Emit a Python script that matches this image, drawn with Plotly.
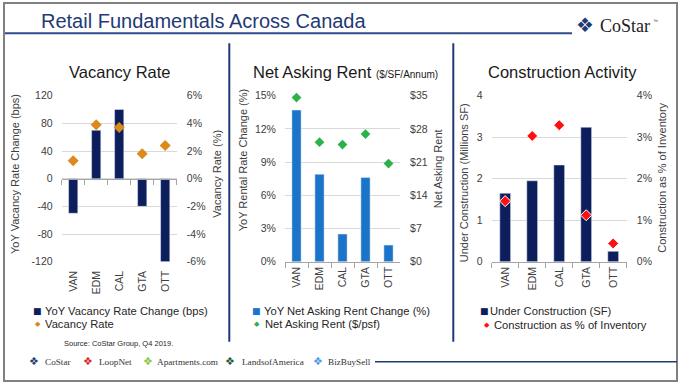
import plotly.graph_objects as go

W, H = 684, 386

# ---------------- data ----------------
cities = ["VAN", "EDM", "CAL", "GTA", "OTT"]

vac_change_bps = [-50, 70, 100, -40, -120]
vac_rate_pct = [1.3, 3.9, 3.7, 1.8, 2.4]

rent_change_pct = [13.7, 7.9, 2.5, 7.6, 1.5]
asking_rent = [34.6, 25.2, 24.7, 26.9, 20.7]

under_construction_msf = [1.65, 1.95, 2.33, 3.24, 0.25]
construction_pct_inv = [1.46, 3.03, 3.29, 1.12, 0.44]

vac_left_ticks = [-120, -80, -40, 0, 40, 80, 120]
vac_left_labels = ["-120", "-80", "-40", "0", "40", "80", "120"]
vac_right_ticks = [-6, -4, -2, 0, 2, 4, 6]
vac_right_labels = ["-6%", "-4%", "-2%", "0%", "2%", "4%", "6%"]
rent_left_ticks = [0, 3, 6, 9, 12, 15]
rent_left_labels = ["0%", "3%", "6%", "9%", "12%", "15%"]
rent_right_ticks = [0, 7, 14, 21, 28, 35]
rent_right_labels = ["$0", "$7", "$14", "$21", "$28", "$35"]
con_left_ticks = [0, 1, 2, 3, 4]
con_left_labels = ["0", "1", "2", "3", "4"]
con_right_ticks = [0, 1, 2, 3, 4]
con_right_labels = ["0%", "1%", "2%", "3%", "4%"]

brands = ["CoStar", "LoopNet", "Apartments.com", "LandsofAmerica", "BizBuySell"]

# ---------------- styling ----------------
NAVY = "#0c1f5c"
MIDBLUE = "#1b74c8"
ORANGE = "#dc8a1c"
GREEN = "#2bb24c"
RED = "#ff1010"
HEAD = "#1f3a75"
GRID = "#d9d9d9"
AXL = "#a6a6a6"
TXT = "#404040"
FONT = "Liberation Sans, Arial, sans-serif"


def X(px):
    return px / W


def Y(py):
    return 1 - py / H


ydom = [Y(261.7), Y(95.7)]
xdom1 = [X(61.7), X(176.7)]
xdom2 = [X(285.0), X(400.0)]
xdom3 = [X(491.7), X(626.7)]

fig = go.Figure()

# Panel 1
fig.add_trace(go.Bar(x=cities, y=vac_change_bps, marker_color=NAVY, width=0.4,
                     xaxis="x", yaxis="y", showlegend=False))
fig.add_trace(go.Scatter(x=cities, y=vac_rate_pct, mode="markers", cliponaxis=False,
                         marker=dict(symbol="diamond", size=8.5, color=ORANGE),
                         xaxis="x", yaxis="y2", showlegend=False))
fig.add_trace(go.Scatter(x=[], y=[], xaxis="x4", yaxis="y", showlegend=False))
# Panel 2
fig.add_trace(go.Bar(x=cities, y=rent_change_pct, marker_color=MIDBLUE, width=0.4,
                     xaxis="x2", yaxis="y3", showlegend=False))
fig.add_trace(go.Scatter(x=cities, y=asking_rent, mode="markers", cliponaxis=False,
                         marker=dict(symbol="diamond", size=7.5, color=GREEN),
                         xaxis="x2", yaxis="y4", showlegend=False))
# Panel 3
fig.add_trace(go.Bar(x=cities, y=under_construction_msf, marker_color=NAVY, width=0.4,
                     xaxis="x3", yaxis="y5", showlegend=False))
fig.add_trace(go.Scatter(x=cities, y=construction_pct_inv, mode="markers", cliponaxis=False,
                         marker=dict(symbol="diamond", size=8.5, color=RED,
                                     line=dict(color="white", width=1)),
                         xaxis="x3", yaxis="y6", showlegend=False))

tickfont = dict(family=FONT, size=10.5, color=TXT)


def xcat(dom, line):
    d = dict(domain=dom, type="category", categoryorder="array", categoryarray=cities,
             tickangle=-90, tickfont=tickfont, showgrid=False, zeroline=False,
             automargin=False, range=[-0.5, len(cities) - 0.5], fixedrange=True)
    if line:
        d.update(showline=True, linecolor=AXL, linewidth=1, ticks="outside",
                 tickson="boundaries", ticklen=5, tickcolor=AXL)
    else:
        d.update(showline=False, ticks="outside", ticklen=4, tickcolor="rgba(0,0,0,0)")
    return d


def yleft(anchor, rng, tv, tt, zl=False):
    return dict(domain=ydom, anchor=anchor, range=rng, tickmode="array", tickvals=tv,
                ticktext=tt, tickfont=tickfont, showgrid=True, gridcolor=GRID,
                gridwidth=1, zeroline=zl, zerolinecolor=AXL, zerolinewidth=1,
                showline=False, ticks="outside", ticklen=6,
                tickcolor="rgba(0,0,0,0)", automargin=False, fixedrange=True)


def yright(anchor, over, rng, tv, tt):
    return dict(domain=ydom, anchor=anchor, overlaying=over, side="right", range=rng,
                tickmode="array", tickvals=tv, ticktext=tt, tickfont=tickfont,
                showgrid=False, zeroline=False, showline=False, ticks="outside",
                ticklen=7, tickcolor="rgba(0,0,0,0)", automargin=False, fixedrange=True)


vac_rng = [vac_left_ticks[0], vac_left_ticks[-1]]
zero_pos = ydom[0] + (0 - vac_rng[0]) / (vac_rng[1] - vac_rng[0]) * (ydom[1] - ydom[0])

layout = dict(
    width=W, height=H, margin=dict(l=0, r=0, t=0, b=0),
    paper_bgcolor="white", plot_bgcolor="rgba(0,0,0,0)",
    font=dict(family=FONT, color=TXT), bargap=0.6, showlegend=False,
    xaxis=xcat(xdom1, False),
    xaxis2=dict(xcat(xdom2, True), anchor="y3"),
    xaxis3=dict(xcat(xdom3, True), anchor="y5"),
    xaxis4=dict(domain=xdom1, overlaying="x", anchor="free", position=zero_pos,
                type="linear", range=[-0.5, len(cities) - 0.5], tick0=-0.5, dtick=1,
                ticks="outside", ticklen=5, tickcolor=AXL, showline=True, linecolor=AXL,
                linewidth=1, showticklabels=False, showgrid=False, zeroline=False,
                automargin=False, fixedrange=True),
    yaxis=yleft("x", vac_rng, vac_left_ticks, vac_left_labels, zl=False),
    yaxis2=yright("x", "y", [vac_right_ticks[0], vac_right_ticks[-1]],
                  vac_right_ticks, vac_right_labels),
    yaxis3=yleft("x2", [rent_left_ticks[0], rent_left_ticks[-1]], rent_left_ticks,
                 rent_left_labels),
    yaxis4=yright("x2", "y3", [rent_right_ticks[0], rent_right_ticks[-1]],
                  rent_right_ticks, rent_right_labels),
    yaxis5=yleft("x3", [con_left_ticks[0], con_left_ticks[-1]], con_left_ticks,
                 con_left_labels),
    yaxis6=yright("x3", "y5", [con_right_ticks[0], con_right_ticks[-1]],
                  con_right_ticks, con_right_labels),
)
fig.update_layout(**layout)

ann = []


def txt(x, y, s, size, color=TXT, xa="center", ya="middle", family=FONT, angle=0):
    ann.append(dict(x=X(x), y=Y(y), xref="paper", yref="paper", text=s, showarrow=False,
                    xanchor=xa, yanchor=ya, textangle=angle,
                    font=dict(family=family, size=size, color=color)))


# header
txt(39.3, 20.7, "Retail Fundamentals Across Canada", 20, HEAD, xa="left")
txt(585, 25, "❖", 20, HEAD, family="DejaVu Sans")
txt(598, 25.5, "CoStar", 18, "#222222", xa="left", family="Liberation Serif, serif")
txt(651, 21, "™", 5, "#444444", xa="left", family="Liberation Sans")

# panel titles
txt(119.5, 71.7, "Vacancy Rate", 16.5, "#1a1a1a")
txt(345, 71.7, "Net Asking Rent <span style='font-size:10px'>($/SF/Annum)</span>", 16.5,
    "#1a1a1a")
txt(562.5, 71.7, "Construction Activity", 16.5, "#1a1a1a")

# axis titles
txt(15, 174, "YoY Vacancy Rate Change (bps)", 11, TXT, angle=-90)
txt(216.7, 174, "Vacancy Rate (%)", 11, TXT, angle=-90)
txt(243.3, 160, "YoY Rental Rate Change (%)", 11, TXT, angle=-90)
txt(438.3, 169, "Net Asking Rent", 11, TXT, angle=-90)
txt(464.3, 183, "Under Construction (Millions SF)", 11, TXT, angle=-90)
txt(661.7, 178, "Construction as % of Inventory", 11, TXT, angle=-90)

# legends
LEG = 11.2
txt(37.7, 310.7, "■", 9, NAVY, family="DejaVu Sans")
txt(42.7, 310.7, "YoY Vacancy Rate Change (bps)", LEG, "#262626", xa="left")
txt(37.7, 324.3, "◆", 7, ORANGE, family="DejaVu Sans")
txt(42.7, 324.3, "Vacancy Rate", LEG, "#262626", xa="left")

txt(256, 310.7, "■", 9, MIDBLUE, family="DejaVu Sans")
txt(261.7, 310.7, "YoY Net Asking Rent Change (%)", LEG, "#262626", xa="left")
txt(256.7, 324.3, "◆", 7, GREEN, family="DejaVu Sans")
txt(262.7, 324.3, "Net Asking Rent ($/psf)", LEG, "#262626", xa="left")

txt(485, 311.2, "■", 9, NAVY, family="DejaVu Sans")
txt(488.3, 311.2, "Under Construction (SF)", LEG, "#262626", xa="left")
txt(486.7, 324.8, "◆", 7, RED, family="DejaVu Sans")
txt(491.7, 324.8, "Construction as % of Inventory", LEG, "#262626", xa="left")

txt(118, 343.5, "Source: CoStar Group, Q4 2019.", 7.5, "#262626")

# footer brands
icon_cols = ["#1f3a75", "#d62828", "#8cc63f", "#1e5c3a", "#4a9be0"]
icon_x = [34, 88, 148, 230, 317.7]
text_x = [43, 97, 155, 240, 326]
for b, c, ix, tx in zip(brands, icon_cols, icon_x, text_x):
    txt(ix, 361.7, "❖", 11, c, family="DejaVu Sans")
    txt(tx, 362, b, 9.2, "#333333", xa="left", family="Liberation Serif, serif")

fig.update_layout(annotations=ann)

shapes = [
    dict(type="rect", xref="paper", yref="paper", x0=X(4), x1=X(677), y0=Y(381), y1=Y(3),
         line=dict(color="#808080", width=2)),
    dict(type="line", xref="paper", yref="paper", x0=X(5), x1=X(572), y0=Y(33.3),
         y1=Y(33.3), line=dict(color="#2f4a8c", width=2)),
    dict(type="line", xref="paper", yref="paper", x0=X(229.3), x1=X(229.3), y0=Y(43.3),
         y1=Y(341.7), line=dict(color=HEAD, width=2)),
    dict(type="line", xref="paper", yref="paper", x0=X(453.3), x1=X(453.3), y0=Y(43.3),
         y1=Y(341.7), line=dict(color=HEAD, width=2)),
    dict(type="line", xref="paper", yref="paper", x0=X(375), x1=X(677), y0=Y(361.7),
         y1=Y(361.7), line=dict(color=HEAD, width=1.5)),
]
fig.update_layout(shapes=shapes)

fig.write_html("out.html", config=dict(displayModeBar=False),
               post_script="document.body.style.margin='0';document.body.style.overflow='hidden';")
